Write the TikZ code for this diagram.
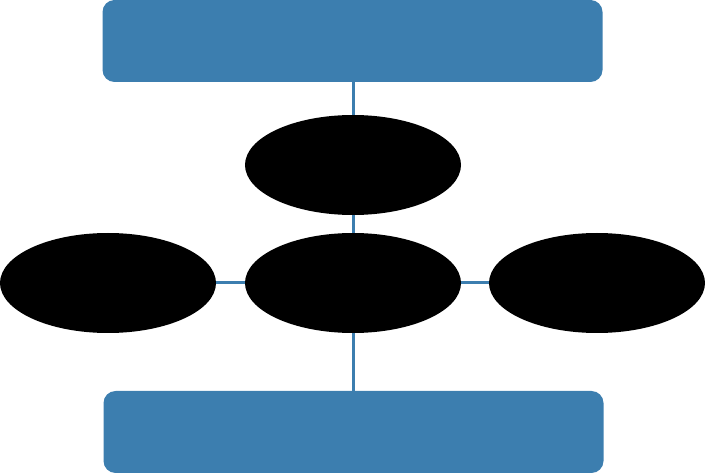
\documentclass[tikz,border=0pt]{standalone}
\usepackage{tikz}
\usetikzlibrary{positioning,shapes.geometric}
\definecolor{boxblue}{HTML}{3C7EAF}
\tikzset{
  bar/.style={fill=boxblue,rounded corners=12pt,minimum width=500pt,minimum height=82pt,inner sep=0pt},
  blob/.style={ellipse,fill=black,minimum width=216pt,minimum height=100pt,inner sep=0pt},
  link/.style={draw=boxblue,line width=3pt}
}
\begin{document}
\begin{tikzpicture}[x=1pt,y=-1pt]
\useasboundingbox (0,0) rectangle (705,473);
\node[bar] (top) at (352.5,41) {};
\node[bar] (bottom) at (353.5,432) {};
\node[blob] (upper) at (353,165) {};
\node[blob] (hub) at (353,283) {};
\node[blob] (left) at (108,283) {};
\node[blob] (right) at (597,283) {};
\draw[link] (top.south -| upper.north) -- (upper.north);
\draw[link] (upper) -- (hub);
\draw[link] (left) -- (hub);
\draw[link] (hub) -- (right);
\draw[link] (hub.south) -- (bottom.north -| hub.south);
\end{tikzpicture}
\end{document}
